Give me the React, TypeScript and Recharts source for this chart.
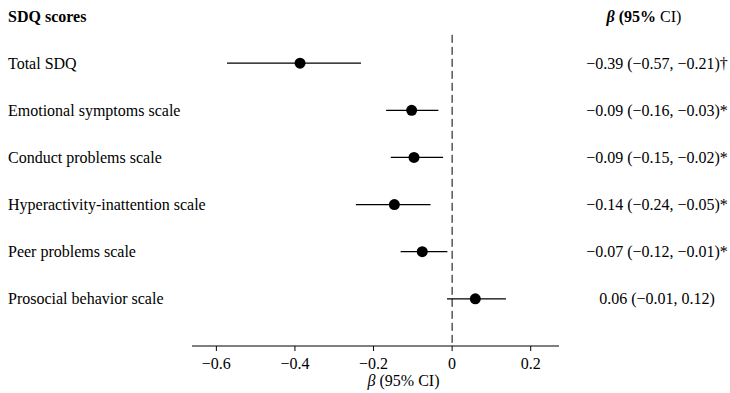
import React from 'react'
import { ScatterChart, Scatter, XAxis, YAxis, ErrorBar, ReferenceLine, Label } from 'recharts'

const categories = [
  'Total SDQ',
  'Emotional symptoms scale',
  'Conduct problems scale',
  'Hyperactivity-inattention scale',
  'Peer problems scale',
  'Prosocial behavior scale',
]
const beta = [-0.387, -0.103, -0.097, -0.147, -0.076, 0.059]
const lower = [-0.573, -0.168, -0.156, -0.245, -0.131, -0.013]
const upper = [-0.232, -0.035, -0.023, -0.055, -0.012, 0.137]
const ciLabels = [
  '−0.39 (−0.57, −0.21)†',
  '−0.09 (−0.16, −0.03)*',
  '−0.09 (−0.15, −0.02)*',
  '−0.14 (−0.24, −0.05)*',
  '−0.07 (−0.12, −0.01)*',
  '0.06 (−0.01, 0.12)',
]
const xTicks = [-0.6, -0.4, -0.2, 0, 0.2]
const rowTicks = [-1, 0, 1, 2, 3, 4, 5]

const data = categories.map((name, i) => ({
  name,
  row: i,
  beta: beta[i],
  err: [beta[i] - lower[i], upper[i] - beta[i]],
}))

const font = "'Liberation Serif', 'Times New Roman', serif"

// left column = row names, right column = beta (CI) text, both hung on the row ticks
const RowTick = (props: any) => {
  const { y, payload } = props
  const i = payload.value
  if (i === -1) {
    return (
      <g>
        <text x={8} y={y} dy="0.35em" fontSize={16} fontWeight="bold" fill="#000" fontFamily={font}>SDQ scores</text>
        <text x={644} y={y} dy="0.35em" fontSize={16} fill="#000" fontFamily={font} textAnchor="middle">
          <tspan fontWeight="bold" fontStyle="italic">β</tspan>
          <tspan fontWeight="bold"> (95%</tspan>
          <tspan> CI)</tspan>
        </text>
      </g>
    )
  }
  return (
    <g>
      <text x={8} y={y} dy="0.35em" fontSize={16} fill="#000" fontFamily={font}>{categories[i]}</text>
      <text x={657} y={y} dy="0.35em" fontSize={16} fill="#000" fontFamily={font} textAnchor="middle">{ciLabels[i]}</text>
    </g>
  )
}

const XLabel = (props: any) => {
  const vb = props.viewBox
  return (
    <text x={vb.x + vb.width / 2 + 28} y={vb.y + 40} fontSize={16} fill="#000" fontFamily={font} textAnchor="middle">
      <tspan fontStyle="italic">β</tspan>
      <tspan> (95% CI)</tspan>
    </text>
  )
}

export default function App() {
  return (
    <div style={{ position: 'absolute', left: 0, top: 0, background: '#fff' }}>
      <ScatterChart width={730} height={393} margin={{ top: 16, right: 171, left: 191, bottom: 17 }}>
        <XAxis
          type="number"
          dataKey="beta"
          domain={[-0.662, 0.272]}
          allowDataOverflow
          ticks={xTicks}
          tickFormatter={(v: number) => (v === 0 ? '0' : String(v).replace('-', '−'))}
          tick={{ fill: '#000', fontSize: 16, fontFamily: font }}
          tickMargin={7}
          stroke="#000"
          tickSize={5}
          height={30}
        >
          <Label content={XLabel} />
        </XAxis>
        <YAxis
          yAxisId="left"
          type="number"
          dataKey="row"
          domain={[-1, 6]}
          reversed
          ticks={rowTicks}
          interval={0}
          width={1}
          axisLine={false}
          tickLine={false}
          tick={RowTick}
        />
        <ReferenceLine
          yAxisId="left"
          segment={[{ x: 0, y: -0.6 }, { x: 0, y: 6 }]}
          stroke="#000"
          strokeDasharray="8 4"
        />
        <Scatter
          yAxisId="left"
          data={data}
          isAnimationActive={false}
          shape={(p: any) => <circle cx={p.cx} cy={p.cy} r={5.5} fill="#000" />}
        >
          <ErrorBar dataKey="err" direction="x" width={0} stroke="#000" strokeWidth={1.3} />
        </Scatter>
      </ScatterChart>
    </div>
  )
}
